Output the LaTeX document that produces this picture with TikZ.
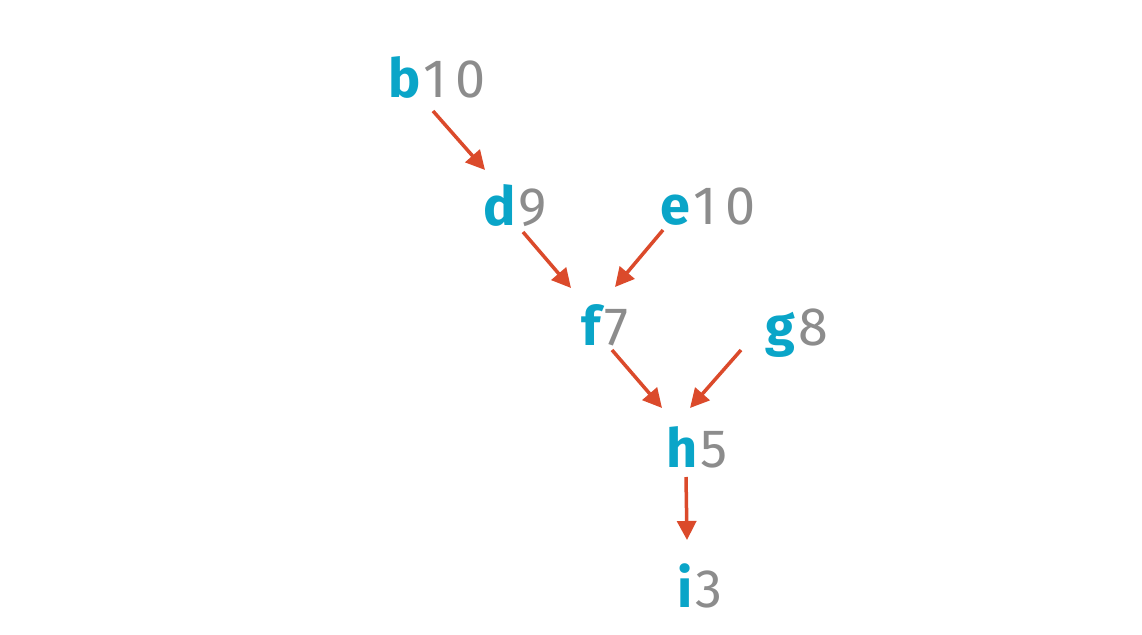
\documentclass[tikz,border=0pt]{standalone}
\usepackage{fontspec}
\setmainfont{Fira Sans}
\usetikzlibrary{arrows.meta}
\definecolor{keyblue}{HTML}{0AA5C8}
\definecolor{numgray}{HTML}{8C8C8C}
\definecolor{edgered}{HTML}{DB4A2B}
\newcommand{\kv}[2]{{\bfseries\color{keyblue}#1}\kern3pt{\color{numgray}#2}}

\begin{document}
\begin{tikzpicture}[x=1pt, y=-1pt,
  every node/.style = {inner sep=0pt, anchor=base,
    font=\fontsize{54}{64}\selectfont},
  edge/.style = {draw=edgered, line width=3.5pt,
    -{Triangle[length=19pt, width=19pt]}}]
  \useasboundingbox (0,0) rectangle (1142,634);
  \node (b) at (437,97) {\kv{b}{1\kern8pt0}};
  \node (d) at (515,225) {\kv{d}{9}};
  \node (e) at (708,224) {\kv{e}{1\kern8pt0}};
  \node (f) at (605,345) {\kv{f}{7}};
  \node (g) at (797,345) {\kv{g}{8}};
  \node (h) at (697,467) {\kv{h}{5}};
  \node (i) at (700,607) {\kv{i}{3}};
  \draw[edge] ([shift={(-4,14)}]b.base) -- ([shift={(-30,-55)}]d.base);
  \draw[edge] ([shift={(8,7)}]d.base) -- ([shift={(-34,-57)}]f.base);
  \draw[edge] ([shift={(-45,6)}]e.base) -- ([shift={(10,-58)}]f.base);
  \draw[edge] ([shift={(7,5)}]f.base) -- ([shift={(-35,-59)}]h.base);
  \draw[edge] ([shift={(-56,5)}]g.base) -- ([shift={(-7,-59)}]h.base);
  \draw[edge] ([shift={(-11,10)}]h.base) -- ([shift={(-13,-67)}]i.base);
\end{tikzpicture}
\end{document}
